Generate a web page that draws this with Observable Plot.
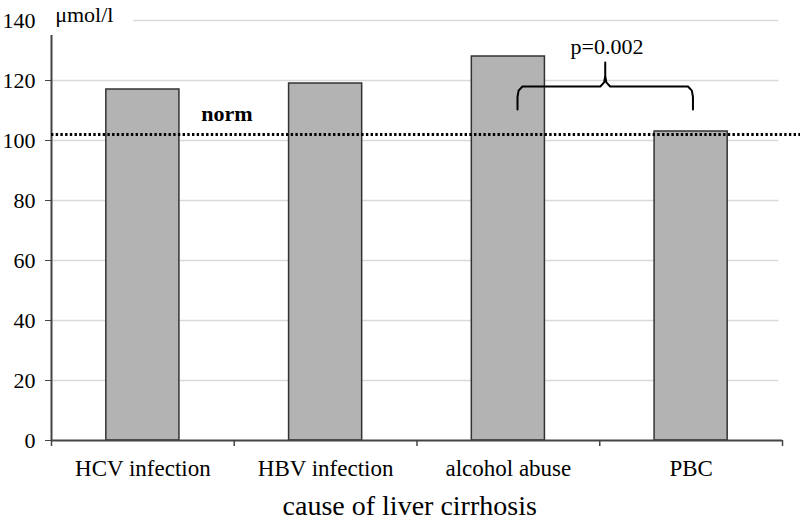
<!DOCTYPE html>
<html>
<head>
<meta charset="utf-8">
<script src="https://cdn.jsdelivr.net/npm/d3@7"></script>
<script src="https://cdn.jsdelivr.net/npm/@observablehq/plot@0.6"></script>
<style>
  html, body { margin: 0; padding: 0; background: #fff; }
  #chart svg { display: block; }
  #chart svg, #chart svg text { font-family: "Liberation Serif", "Times New Roman", serif !important; }
</style>
</head>
<body>
<div id="chart"></div>
<script>
// ---- data ----
const categories = ["HCV infection", "HBV infection", "alcohol abuse", "PBC"];
const values = [117, 119, 128, 103];
const normValue = 102;
const yTicks = [0, 20, 40, 60, 80, 100, 120, 140];
const unitLabel = "μmol/l";
const xTitle = "cause of liver cirrhosis";
const pLabel = "p=0.002";
const normLabel = "norm";
// brace between alcohol abuse and PBC (values in y units)
const braceBase = 118, braceTip = 110.3, bracePeak = 126;

const rows = categories.map((c, i) => ({cat: c, i, value: values[i]}));

const font = "Liberation Serif";

const L = 2.55, R = 3.51, M = (L + R) / 2;
const brace = [
  [L, braceTip], [L, braceTip + 4.2], [L + 0.006, braceBase - 1.4], [L + 0.027, braceBase],
  [M - 0.027, braceBase], [M - 0.006, braceBase + 1.4], [M, braceBase + 3.5], [M, bracePeak],
  [M, braceBase + 3.5], [M + 0.006, braceBase + 1.4], [M + 0.027, braceBase],
  [R - 0.027, braceBase], [R - 0.006, braceBase - 1.4], [R, braceTip + 4.2], [R, braceTip]
].map(([x, y]) => ({x, y}));

const chart = Plot.plot({
  width: 800,
  height: 521,
  marginLeft: 51,
  marginRight: 18,
  marginTop: 20,
  marginBottom: 81,
  style: {fontSize: "22px", color: "#000", background: "#fff"},
  x: {type: "linear", domain: [0, categories.length], axis: null},
  y: {type: "linear", domain: [0, 140], axis: null},
  marks: [
    // gridlines
    Plot.ruleY(yTicks.filter(t => t > 0 && t < 140), {x1: 0, x2: 3.98, stroke: "#d9d9d9", strokeWidth: 1.5}),
    Plot.ruleY([140], {x1: 0.45, x2: 3.98, stroke: "#d9d9d9", strokeWidth: 1.5}),
    // bars
    Plot.rectY(rows, {x1: d => d.i + 0.3, x2: d => d.i + 0.7, y: "value", fill: "#b3b3b3", stroke: "#333", strokeWidth: 1.5}),
    // y axis
    Plot.ruleX([0], {y1: 0, y2: 135, stroke: "#444", strokeWidth: 2}),
    Plot.axisY({ticks: yTicks.filter(t => t <= 120), tickSize: 6, tickPadding: 10, stroke: "#444", fontSize: 22, fontFamily: font}),
    Plot.axisY({ticks: [140], tickSize: 0, tickPadding: 16, fontSize: 22, fontFamily: font}),
    // x axis
    Plot.ruleY([0], {x1: 0, x2: categories.length, stroke: "#444", strokeWidth: 2}),
    Plot.ruleX(d3.range(categories.length + 1), {x: d => d, y1: -2, y2: 0, stroke: "#444", strokeWidth: 1.5}),
    Plot.text(rows, {x: d => d.i + 0.5, y: 0, text: "cat", dy: 28, fontSize: 23, fontFamily: font, fill: "#000"}),
    Plot.text([xTitle], {x: 1.96, y: 0, text: d => d, dy: 66, fontSize: 28, fontFamily: font, fill: "#000"}),
    // norm dotted line
    Plot.ruleY([normValue], {x1: 0, x2: 4.1, stroke: "#000", strokeWidth: 3, strokeDasharray: "2.4,2.3", clip: false}),
    Plot.text([normLabel], {x: 0.96, y: 109, text: d => d, fontWeight: "bold", fontSize: 22, fontFamily: font, fill: "#000"}),
    // unit label
    Plot.text([unitLabel], {x: 0.02, y: 141.7, text: d => d, textAnchor: "start", fontSize: 22, fontFamily: font, fill: "#000"}),
    // brace & p value
    Plot.line(brace, {x: "x", y: "y", stroke: "#000", strokeWidth: 2}),
    Plot.text([pLabel], {x: M + 0.01, y: 131.3, text: d => d, fontSize: 22, fontFamily: font, fill: "#000"})
  ]
});
document.getElementById("chart").append(chart);
</script>
</body>
</html>
